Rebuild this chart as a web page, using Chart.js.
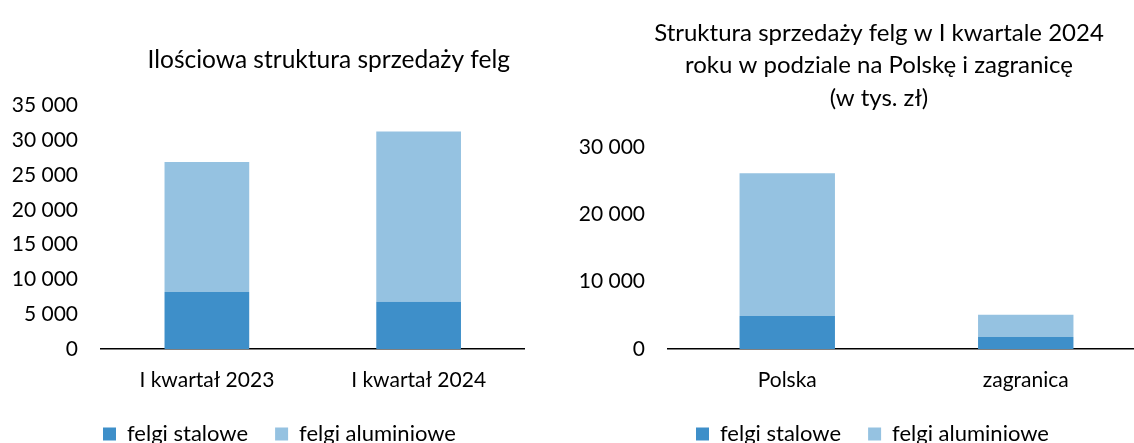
<!DOCTYPE html>
<html>
<head>
<meta charset="utf-8">
<script src="https://cdn.jsdelivr.net/npm/chart.js@4/dist/chart.umd.min.js"></script>
<style>
  body { margin: 0; background: #fff; width: 1134px; height: 443px; overflow: hidden; position: relative; }
  .box { position: absolute; top: 0; height: 443px; overflow: hidden; }
  .box canvas { position: absolute; left: 0; top: 0; }
</style>
</head>
<body>
<div class="box" style="left:0;width:570px"><canvas id="ilosc" width="560" height="480"></canvas></div>
<div class="box" style="left:570px;width:564px"><canvas id="wartosc" width="600" height="480"></canvas></div>
<script>
// lewy wykres - ilosc sztuk
let kwartaly = ["I kwartał 2023", "I kwartał 2024"]
let stalowe2 = [8200, 6800]
let aluminiowe2 = [18700, 24500]

// prawy wykres - wartosc w tys. zl, I kw. 2024
let rynki = ["Polska", "zagranica"]
let stalowe = [4900, 1800]
let aluminiowe = [21200, 3300]

let ciemny = "#3e8fc9"
let jasny = "#95c2e1"

Chart.defaults.font.family = "Lato"
Chart.defaults.font.size = 20
Chart.defaults.color = "#000"

// title and legend sit off-centre in the original, move them a bit
let nudge = {
    id: "nudge",
    afterLayout(chart, args, o) {
        let pairs = [[chart.titleBlock, o.title], [chart.legend, o.legend]]
        for (let [b, d] of pairs) {
            if (!b || !d) continue
            b.left += d[0]; b.right += d[0]
            b.top += d[1]; b.bottom += d[1]
        }
    }
}

let spaces = v => String(v).replace(/\B(?=(\d{3})+(?!\d))/g, " ")

function makeChart(id, labels, steel, alu, opts) {
    let ctx = document.getElementById(id).getContext("2d")
    return new Chart(ctx, {
        type: "bar",
        data: {
            labels: labels,
            datasets: [{
                label: "felgi stalowe",
                data: steel,
                backgroundColor: ciemny
            }, {
                label: "felgi aluminiowe",
                data: alu,
                backgroundColor: jasny
            }]
        },
        options: {
            responsive: false,
            animation: false,
            categoryPercentage: 1,
            barPercentage: 0.4,
            layout: { padding: { left: 0, right: opts.padRight, top: 0, bottom: 8.8 } },
            scales: {
                x: {
                    stacked: true,
                    grid: { display: false, drawTicks: false },
                    border: { display: true, color: "#000", width: 1.5 },
                    ticks: { padding: 19, maxRotation: 0, minRotation: 0, font: { size: 21 } }
                },
                y: {
                    stacked: true,
                    min: 0,
                    max: opts.max,
                    grid: { display: false, drawTicks: false },
                    border: { display: false },
                    ticks: { stepSize: opts.step, padding: 23, font: { size: 21 }, callback: spaces },
                    afterFit: s => { s.width = opts.axisWidth }
                }
            },
            plugins: {
                title: {
                    display: true,
                    text: opts.title,
                    font: { size: opts.titleSize, weight: "normal", lineHeight: opts.lineHeight },
                    padding: opts.titlePad
                },
                legend: {
                    position: "bottom",
                    align: "start",
                    labels: { boxWidth: 13, boxHeight: 13, padding: 27, font: { size: 22 } }
                },
                tooltip: { enabled: false },
                nudge: { title: opts.titleShift, legend: opts.legendShift }
            }
        },
        plugins: [nudge]
    })
}

makeChart("ilosc", kwartaly, stalowe2, aluminiowe2, {
    title: "Ilościowa struktura sprzedaży felg",
    titleSize: 24.5,
    lineHeight: 1.2,
    titlePad: { top: 45.3, bottom: 31 },
    max: 35000, step: 5000,
    axisWidth: 101, padRight: 35.5,
    titleShift: [66.5, 0],
    legendShift: [76, -16.2]
})

makeChart("wartosc", rynki, stalowe, aluminiowe, {
    title: ["Struktura sprzedaży felg w I kwartale 2024", "roku w podziale na Polskę i zagranicę", "(w tys. zł)"],
    titleSize: 24,
    lineHeight: 1.354,
    titlePad: { top: 16.75, bottom: 32.75 },
    max: 30000, step: 10000,
    axisWidth: 98, padRight: 25,
    titleShift: [21.5, 0],
    legendShift: [99, -16.2]
})
</script>
</body>
</html>
